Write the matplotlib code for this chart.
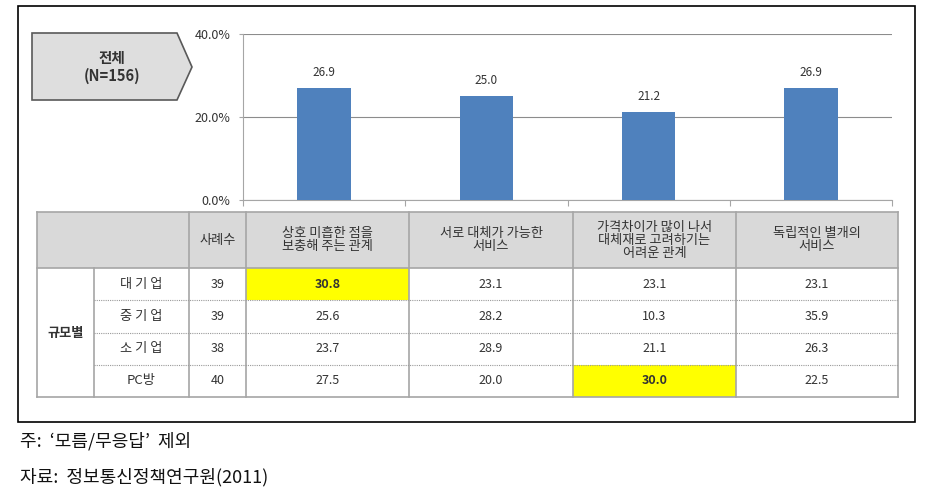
"""Bar chart of overall responses with a breakdown table underneath."""
import matplotlib
matplotlib.use("Agg")
import matplotlib.pyplot as plt
from matplotlib.patches import Polygon, Rectangle

plt.rcParams["font.family"] = ["Noto Sans CJK KR", "DejaVu Sans"]

CATEGORIES = [
    "상호 미흡한 점을\n보충해 주는 관계",
    "서로 대체가 가능한\n서비스",
    "가격차이가 많이 나서\n대체재로 고려하기는\n어려운 관계",
    "독립적인 별개의\n서비스",
]
OVERALL = [26.9, 25.0, 21.2, 26.9]
Y_TICKS = [0, 20, 40]

GROUP_LABEL = "규모별"
GROUPS = ["대 기 업", "중 기 업", "소 기 업", "PC방"]
COUNTS = [39, 39, 38, 40]
VALUES = [
    [30.8, 23.1, 23.1, 23.1],
    [25.6, 28.2, 10.3, 35.9],
    [23.7, 28.9, 21.1, 26.3],
    [27.5, 20.0, 30.0, 22.5],
]
HIGHLIGHT = [(0, 0), (3, 2)]

W, H = 935, 498
BAR_COLOR = "#4f81bd"
LINE = "#a6a6a6"
TXT = "#333333"

fig = plt.figure(figsize=(W / 100, H / 100), dpi=100)

# pixel-space canvas for frame, label box, table and notes
bg = fig.add_axes([0, 0, 1, 1])
bg.set_xlim(0, W)
bg.set_ylim(H, 0)
bg.axis("off")

bg.add_patch(Rectangle((18, 6), 897, 416, fill=False, ec="black", lw=1.2))

box = [(32, 33), (177, 33), (192, 67), (177, 100), (32, 100)]
bg.add_patch(Polygon(box, closed=True, fc="#dedede", ec="#595959", lw=1.2))
bg.text(112, 67, "전체\n(N=156)", ha="center", va="center",
        fontsize=10.5, fontweight="bold", color=TXT, linespacing=1.1)

# bar chart
ax = fig.add_axes([243 / W, 1 - 200 / H, 649 / W, 166 / H])
x = range(len(OVERALL))
ax.bar(x, OVERALL, width=0.33, color=BAR_COLOR, zorder=3)
for i, v in zip(x, OVERALL):
    ax.text(i, v + 2.2, f"{v:.1f}", ha="center", va="bottom",
            fontsize=8.5, color=TXT)
ax.set_xlim(-0.5, len(OVERALL) - 0.5)
ax.set_ylim(0, 40)
ax.set_yticks(Y_TICKS)
ax.set_yticklabels([f"{t:.1f}%" for t in Y_TICKS], fontsize=9, color=TXT)
ax.set_xticks([i - 0.5 for i in range(len(OVERALL) + 1)])
ax.set_xticklabels([])
ax.tick_params(axis="y", length=3, color=LINE, pad=6)
ax.tick_params(axis="x", length=4, color=LINE, direction="out")
ax.grid(axis="y", color="#8c8c8c", lw=0.8, zorder=0)
for s in ["top", "right"]:
    ax.spines[s].set_visible(False)
for s in ["left", "bottom"]:
    ax.spines[s].set_color(LINE)
ax.set_facecolor("none")

# table
col_x = [37, 94, 189, 246, 409, 573, 736, 898]
head_top, head_bot = 212, 268
row_h = (397 - head_bot) / len(GROUPS)
row_y = [head_bot + i * row_h for i in range(len(GROUPS) + 1)]

bg.add_patch(Rectangle((col_x[0], head_top), col_x[-1] - col_x[0],
                       head_bot - head_top, fc="#d9d9d9", ec="none"))
for r, c in HIGHLIGHT:
    bg.add_patch(Rectangle((col_x[3 + c], row_y[r]), col_x[4 + c] - col_x[3 + c],
                           row_h, fc="#ffff00", ec="none"))

bg.plot([col_x[0], col_x[-1]], [head_top, head_top], color=LINE, lw=1.2)
bg.plot([col_x[0], col_x[-1]], [head_bot, head_bot], color=LINE, lw=1.2)
bg.plot([col_x[0], col_x[-1]], [row_y[-1], row_y[-1]], color=LINE, lw=1.2)
for i, cx in enumerate(col_x):
    y0 = head_bot if i == 1 else head_top
    bg.plot([cx, cx], [y0, row_y[-1]], color=LINE, lw=1.2)
for y in row_y[1:-1]:
    bg.plot([col_x[1], col_x[-1]], [y, y], color="#9a9a9a", lw=0.8, ls=(0, (1, 1)))

hy = (head_top + head_bot) / 2
bg.text((col_x[2] + col_x[3]) / 2, hy, "사례수", ha="center", va="center",
        fontsize=9.5, color=TXT)
for j, cat in enumerate(CATEGORIES):
    bg.text((col_x[3 + j] + col_x[4 + j]) / 2, hy, cat, ha="center",
            va="center", fontsize=9.5, color=TXT, linespacing=1.0)

bg.text((col_x[0] + col_x[1]) / 2, (head_bot + row_y[-1]) / 2, GROUP_LABEL,
        ha="center", va="center", fontsize=9.5, fontweight="bold", color=TXT)
for r, g in enumerate(GROUPS):
    cy = row_y[r] + row_h / 2
    bg.text((col_x[1] + col_x[2]) / 2, cy, g, ha="center", va="center",
            fontsize=9.5, color=TXT)
    bg.text((col_x[2] + col_x[3]) / 2, cy, str(COUNTS[r]), ha="center",
            va="center", fontsize=9, color=TXT)
    for c, v in enumerate(VALUES[r]):
        hl = (r, c) in HIGHLIGHT
        bg.text((col_x[3 + c] + col_x[4 + c]) / 2, cy, f"{v:.1f}",
                ha="center", va="center", fontsize=9, color=TXT,
                fontweight="bold" if hl else "normal")

# notes
bg.text(20, 441, "주:  ‘모름/무응답’  제외", ha="left", va="center",
        fontsize=13, color="#111111")
bg.text(20, 477, "자료:  정보통신정책연구원(2011)", ha="left", va="center",
        fontsize=13, color="#111111")

fig.savefig("out.png", dpi=100)
